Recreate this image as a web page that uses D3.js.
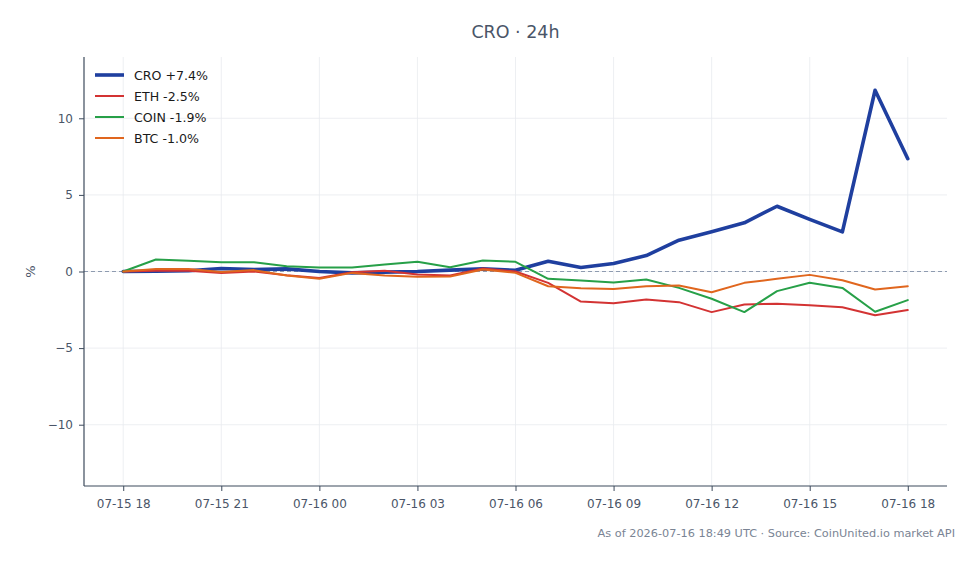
<!DOCTYPE html>
<html><head><meta charset="utf-8">
<script src="https://cdn.jsdelivr.net/npm/d3@7"></script>
<style>body{margin:0;background:#fff}svg{display:block;font-family:"DejaVu Sans",sans-serif}</style>
</head><body><svg id="c" width="979" height="564"></svg>
<script>
const hours = d3.range(25).map(i => new Date(Date.UTC(2026,6,15,18+i)));
const seriesNames = ["CRO","ETH","COIN","BTC"];
const seriesChange = ["+7.4%","-2.5%","-1.9%","-1.0%"];
const CRO = [0,0.02,0.05,0.2,0.13,0.17,0.0,-0.09,-0.04,0.0,0.09,0.17,0.08,0.67,0.26,0.52,1.04,2.04,2.6,3.18,4.26,3.4,2.59,11.83,7.36];
const ETH = [0,0.05,0.05,-0.1,0.0,-0.25,-0.42,-0.05,0.05,-0.2,-0.26,0.2,0.0,-0.74,-1.96,-2.07,-1.83,-2.0,-2.65,-2.15,-2.1,-2.2,-2.33,-2.85,-2.52];
const COIN = [0,0.78,0.7,0.61,0.61,0.35,0.26,0.26,0.45,0.63,0.28,0.72,0.63,-0.48,-0.59,-0.72,-0.52,-1.07,-1.78,-2.65,-1.28,-0.74,-1.07,-2.63,-1.87];
const BTC = [0,0.17,0.17,-0.04,0.09,-0.26,-0.48,-0.09,-0.26,-0.35,-0.33,0.13,-0.09,-0.96,-1.09,-1.15,-0.96,-0.91,-1.35,-0.74,-0.48,-0.22,-0.57,-1.17,-0.96];
const xTickLabels = ["07-15 18","07-15 21","07-16 00","07-16 03","07-16 06","07-16 09","07-16 12","07-16 15","07-16 18"];
const yTicks = [-10,-5,0,5,10];
const values = [CRO, ETH, COIN, BTC];
const colors = ["#1f3f9f","#d33333","#27a048","#e0661e"];
const widths = [3.6,2,2,2];

const svg = d3.select("#c");
const L=84,R=947,T=57,B=486;
const pad = 1.2*3600*1000;
const x = d3.scaleUtc().domain([+hours[0]-pad, +hours[24]+pad]).range([L,R]);
const y = d3.scaleLinear().domain([-14,14]).range([B,T]);
const xTickDates = d3.range(9).map(i => hours[i*3]);

// grid
svg.append("g").selectAll("line").data(xTickDates).join("line")
  .attr("x1",d=>x(d)).attr("x2",d=>x(d)).attr("y1",T).attr("y2",B)
  .attr("stroke","#e8ebef").attr("stroke-width",0.8);
svg.append("g").selectAll("line").data(yTicks).join("line")
  .attr("x1",L).attr("x2",R).attr("y1",d=>y(d)).attr("y2",d=>y(d))
  .attr("stroke","#e8ebef").attr("stroke-width",0.8);

// zero line
svg.append("line").attr("x1",L).attr("x2",R).attr("y1",y(0)).attr("y2",y(0))
  .attr("stroke","#8e9bb0").attr("stroke-width",1).attr("stroke-dasharray","4,3");

// lines
const line = d3.line().x((d,i)=>x(hours[i])).y(d=>y(d));
values.forEach((v,k)=>{
  svg.append("path").datum(v).attr("d",line).attr("fill","none")
    .attr("stroke",colors[k]).attr("stroke-width",widths[k])
    .attr("stroke-linejoin","round").attr("stroke-linecap","round");
});

// axes
const xAxis = d3.axisBottom(x).tickValues(xTickDates).tickFormat((d,i)=>xTickLabels[i]).tickSize(5).tickPadding(8);
const gx = svg.append("g").attr("transform",`translate(0,${B})`).call(xAxis);
const yAxis = d3.axisLeft(y).tickValues(yTicks).tickFormat(d3.format("d")).tickSize(5).tickPadding(6);
const gy = svg.append("g").attr("transform",`translate(${L},0)`).call(yAxis);
[gx,gy].forEach(g=>{
  g.select(".domain").attr("stroke","#3d4a5c").attr("stroke-width",1.2);
  g.selectAll(".tick line").attr("stroke","#3d4a5c");
  g.selectAll(".tick text").attr("fill","#4a5568").attr("font-size",12).attr("font-family","DejaVu Sans, sans-serif");
});
gy.select(".domain").attr("d",`M0,${B}V${T}`);
gx.select(".domain").attr("d",`M${L},0H${R}`);

// labels
svg.append("text").attr("x",(L+R)/2).attr("y",37.5).attr("text-anchor","middle")
  .attr("font-size",17.5).attr("fill","#4a5568").text("CRO · 24h");
svg.append("text").attr("transform",`translate(35,${y(0)}) rotate(-90)`).attr("text-anchor","middle")
  .attr("font-size",13).attr("fill","#4a5568").text("%");
svg.append("text").attr("x",955).attr("y",537).attr("text-anchor","end")
  .attr("font-size",11.3).attr("fill","#7a8494").text("As of 2026-07-16 18:49 UTC · Source: CoinUnited.io market API");

// legend
const lg = svg.append("g");
seriesNames.forEach((n,k)=>{
  const yy = 75 + k*21;
  lg.append("line").attr("x1",95).attr("x2",124).attr("y1",yy).attr("y2",yy)
    .attr("stroke",colors[k]).attr("stroke-width",widths[k]);
  lg.append("text").attr("x",134).attr("y",yy+4.5).attr("font-size",12.6).attr("fill","#1a1a1a")
    .text(`${n} ${seriesChange[k]}`);
});
</script></body></html>
